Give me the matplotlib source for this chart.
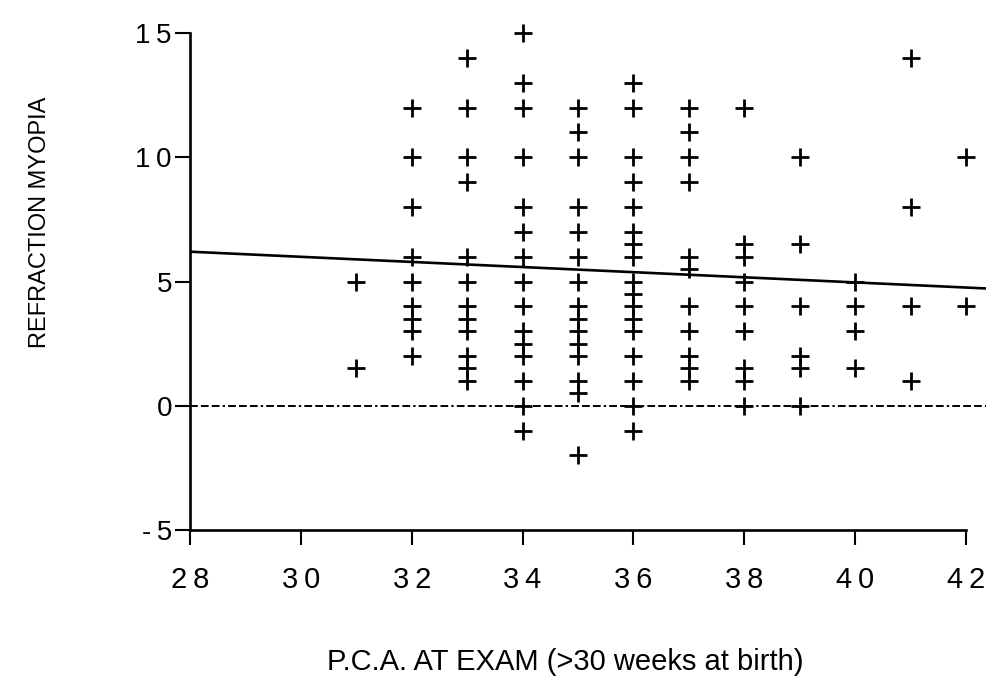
import matplotlib
matplotlib.use("Agg")
import matplotlib.pyplot as plt
import numpy as np

# Refraction (myopia) readings grouped by post-conceptional age at exam (weeks)
pca_31 = [5, 1.5]
pca_32 = [12, 10, 8, 6, 5, 4, 3.5, 3, 2]
pca_33 = [14, 12, 10, 9, 6, 5, 4, 3.5, 3, 2, 1.5, 1]
pca_34 = [15, 13, 12, 10, 8, 7, 6, 5, 4, 3, 2.5, 2, 1, 0, -1]
pca_35 = [12, 11, 10, 8, 7, 6, 5, 4, 3.5, 3, 2.5, 2, 1, 0.5, -2]
pca_36 = [13, 12, 10, 9, 8, 7, 6.5, 6, 5, 4.5, 4, 3.5, 3, 2, 1, 0, -1]
pca_37 = [12, 11, 10, 9, 6, 5.5, 4, 3, 2, 1.5, 1]
pca_38 = [12, 6.5, 6, 5, 4, 3, 1.5, 1, 0]
pca_39 = [10, 6.5, 4, 2, 1.5, 0]
pca_40 = [5, 4, 3, 1.5]
pca_41 = [14, 8, 4, 1]
pca_42 = [10, 4]

weeks = [31, 32, 33, 34, 35, 36, 37, 38, 39, 40, 41, 42]
groups = [pca_31, pca_32, pca_33, pca_34, pca_35, pca_36,
          pca_37, pca_38, pca_39, pca_40, pca_41, pca_42]

# Fitted trend line end points
fit_x = [28, 42.36]
fit_y = [6.2, 4.72]

x_ticks = [28, 30, 32, 34, 36, 38, 40, 42]
y_ticks = [-5, 0, 5, 10, 15]
thin = "\u2009"
x_tick_labels = [thin.join(str(t)) for t in x_ticks]
y_tick_labels = ["-" + thin + "5", "0", "5", "1" + thin + "0", "1" + thin + "5"]

xs = np.concatenate([[w] * len(g) for w, g in zip(weeks, groups)])
ys = np.concatenate([g for g in groups])

fig = plt.figure(figsize=(9.86, 6.85), dpi=100)
ax = fig.add_axes([190 / 986, 155 / 685, 796 / 986, 497 / 685])

tick_font = ["Liberation Sans", "DejaVu Sans"]

ax.plot(xs, ys, linestyle="none", marker="+", markersize=13,
        markeredgewidth=2.0, color="black", clip_on=False, zorder=3)
ax.plot(fit_x, fit_y, color="black", linewidth=1.9, zorder=2)
ax.plot([28, 42.36], [0, 0], color="black", linewidth=1.4,
        linestyle=(0, (4, 1.6, 4, 1.6, 4, 1.6, 1.2, 1.6)), zorder=1)

ax.set_xlim(28, 42.36)
ax.set_ylim(-5, 15)
ax.spines["top"].set_visible(False)
ax.spines["right"].set_visible(False)
ax.spines["left"].set_linewidth(1.9)
ax.spines["bottom"].set_linewidth(1.9)
ax.spines["bottom"].set_bounds(28, 42)

ax.set_xticks(x_ticks)
ax.set_xticklabels(x_tick_labels, family=tick_font, fontsize=21)
ax.set_yticks(y_ticks)
ax.set_yticklabels(y_tick_labels, family=tick_font, fontsize=20)
ax.tick_params(axis="x", direction="out", length=11, width=1.5, pad=15)
ax.tick_params(axis="y", direction="out", length=11, width=1.5, pad=2)

fig.text(40 / 986, 1 - 222 / 685, "REFRACTION MYOPIA", rotation=90,
         ha="center", va="center", fontsize=17, family=tick_font)
fig.text(565 / 986, 1 - 662 / 685, "P.C.A. AT EXAM (>30 weeks at birth)",
         ha="center", va="center", fontsize=21, family=tick_font)

fig.savefig("out.png", dpi=100, facecolor="white")
